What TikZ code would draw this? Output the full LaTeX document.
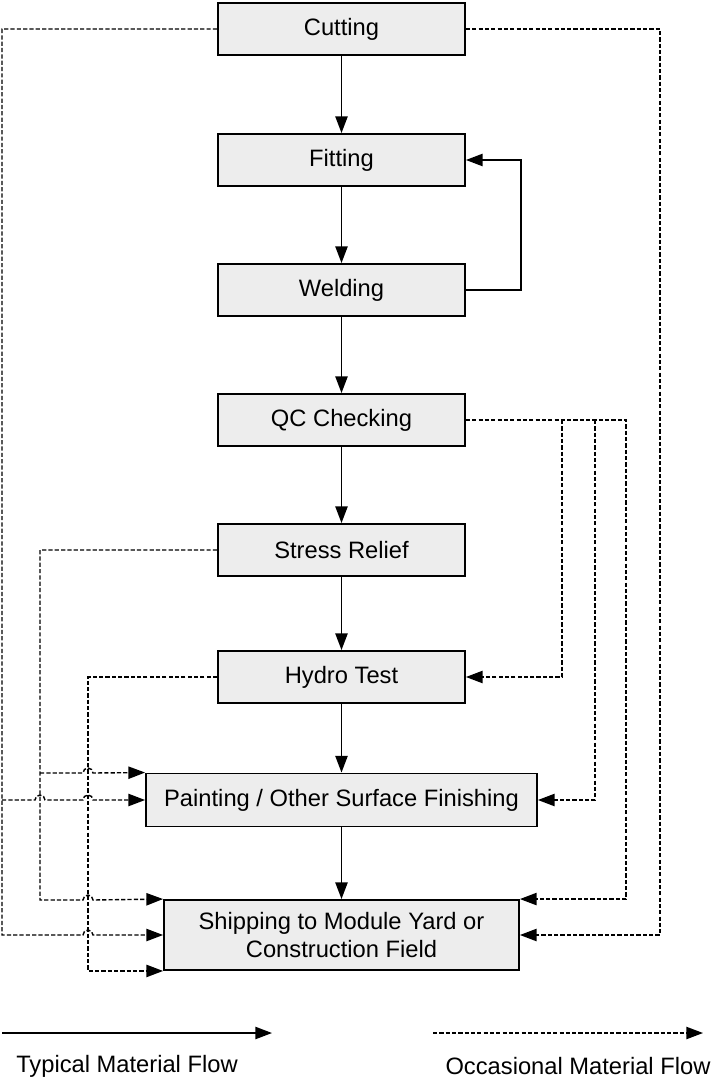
\documentclass[tikz,border=0pt]{standalone}
\usepackage{fontspec}
\setmainfont{Liberation Sans}
\usetikzlibrary{arrows.meta}
\tikzset{headarrow/.style = {-{Triangle[length=9.5pt, width=7pt]}}}
\tikzset{typical/.style = {headarrow, line width=.85pt}}
\tikzset{occasional/.style = {headarrow, line width=.8pt, dash pattern=on 2.4pt off 1.2pt}}
\tikzset{stagebox/.style = {draw, line width=1.1pt, fill=black!7,
                            minimum width=4.94cm, minimum height=1.04cm,
                            inner sep=0pt, font=\fontsize{13.5}{16}\selectfont}}
\tikzset{legendtext/.style = {font=\fontsize{13.5}{16}\selectfont}}

\begin{document}
\begin{tikzpicture}[x=0.02cm, y=-0.02cm]
    \useasboundingbox (0,0) rectangle (712,1081);

    \node (cut)    at (341.5,29)  [stagebox] {Cutting};
    \node (fit)    at (341.5,160) [stagebox] {Fitting};
    \node (weld)   at (341.5,290) [stagebox] {Welding};
    \node (qc)     at (341.5,420) [stagebox] {QC Checking};
    \node (stress) at (341.5,550) [stagebox] {Stress Relief};
    \node (hydro)  at (341.5,677) [stagebox] {Hydro Test};
    \node (paint)  at (341.5,800) [stagebox, minimum width=7.82cm,
                                   minimum height=1.06cm] {Painting / Other Surface Finishing};
    \node (ship)   at (341.5,935) [stagebox, minimum width=7.1cm,
                                   minimum height=1.4cm, align=center]
                                  {Shipping to Module Yard or\\Construction Field};

    \foreach \Target [remember=\Target as \Source (initially cut)] in {%
        fit,
        weld,
        qc,
        stress,
        hydro,
        paint,
        ship%
        }
        \draw[typical] (\Source) -- (\Target);

    \draw[typical] (weld.east) -- ++(55,0) |- (fit.east);

    % left side, with hops over the vertical runs
    \coordinate (cutleft)    at (2,800);
    \coordinate (stressleft) at (40,773);
    \draw[occasional] (cut.west) -- (2,29) -- (2,935) -- (83,935)
        arc[start angle=180, end angle=0, radius=0.1cm] -- (ship.west);
    \draw[occasional] (cutleft) -- (35,800)
        arc[start angle=180, end angle=0, radius=0.1cm] -- (83,800)
        arc[start angle=180, end angle=0, radius=0.1cm] -- (paint.west);
    \draw[occasional] (stress.west) -- (40,550) -- (40,900) -- (83,900)
        arc[start angle=180, end angle=0, radius=0.1cm] -- (ship.north west);
    \draw[occasional] (stressleft) -- (83,773)
        arc[start angle=180, end angle=0, radius=0.1cm] -- (paint.north west);
    \draw[occasional] (hydro.west) -- (88,677) |- (ship.south west);

    % right side
    \coordinate (qchydro) at (562,420);
    \coordinate (qcpaint) at (595,420);
    \draw[occasional] (cut.east) -- (660,29) |- (ship.east);
    \draw[occasional] (qc.east) -- (626,420) |- (ship.north east);
    \draw[occasional] (qchydro) |- (hydro.east);
    \draw[occasional] (qcpaint) |- (paint.east);

    % legend
    \coordinate (typstart) at (2,1033);
    \coordinate (typend)   at (272,1033);
    \coordinate (occstart) at (433,1033);
    \coordinate (occend)   at (703,1033);
    \draw[typical] (typstart) -- (typend);
    \draw[occasional] (occstart) -- (occend);
    \node (typlabel) at (127,1066) [legendtext] {Typical Material Flow};
    \node (occlabel) at (578,1066) [legendtext] {Occasional Material Flow};
\end{tikzpicture}
\end{document}
